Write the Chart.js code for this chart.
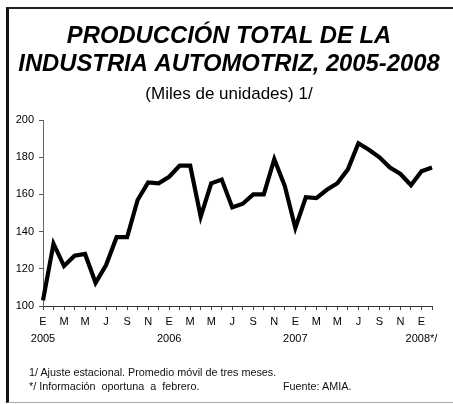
<!DOCTYPE html>
<html>
<head>
<meta charset="utf-8">
<script src="https://cdn.jsdelivr.net/npm/chart.js@4.4.1/dist/chart.umd.min.js"></script>
<style>
  html, body { margin: 0; padding: 0; background: #fff; }
  #wrap { position: relative; width: 453px; height: 404px; overflow: hidden; background: #fff; }
  #frame { position: absolute; left: 6px; top: 7px; width: 470px; height: 396px;
           border-left: 3px solid #111; border-top: 2px solid #222; border-bottom: 1px solid #aaa; box-sizing: border-box; }
  canvas { position: absolute; left: 0; top: 0; }
  .note { position: absolute; font-family: "Liberation Sans", Arial, sans-serif; font-size: 10.8px; color: #111; white-space: nowrap; }
</style>
</head>
<body>
<div id="wrap">
  <div id="frame"></div>
  <canvas id="c" width="458" height="404"></canvas>
  <div class="note" style="left:29px; top:366px;">1/ Ajuste estacional. Promedio móvil de tres meses.</div>
  <div class="note" style="left:29px; top:380px;">*/ Información&nbsp; oportuna&nbsp; a&nbsp; febrero.</div>
  <div class="note" style="left:283px; top:380px;">Fuente: AMIA.</div>
</div>
<script>
const titleLines = ['PRODUCCIÓN TOTAL DE LA', 'INDUSTRIA AUTOMOTRIZ, 2005-2008'];
const subtitleText = '(Miles de unidades) 1/';

const categories = [
  '2005-01','2005-02','2005-03','2005-04','2005-05','2005-06','2005-07','2005-08','2005-09','2005-10','2005-11','2005-12',
  '2006-01','2006-02','2006-03','2006-04','2006-05','2006-06','2006-07','2006-08','2006-09','2006-10','2006-11','2006-12',
  '2007-01','2007-02','2007-03','2007-04','2007-05','2007-06','2007-07','2007-08','2007-09','2007-10','2007-11','2007-12',
  '2008-01','2008-02'
];

const monthLabels = [
  'E','','M','','M','','J','','S','','N','',
  'E','','M','','M','','J','','S','','N','',
  'E','','M','','M','','J','','S','','N','',
  'E',''
];

const yearLabels = [
  '2005','','','','','','','','','','','',
  '2006','','','','','','','','','','','',
  '2007','','','','','','','','','','','',
  '2008*/',''
];

const produccion = [
  103, 133.5, 121.5, 127, 128, 112.5, 122, 137, 137, 157, 166.5, 166,
  169.5, 175.5, 175.5, 148, 166, 168, 153, 155, 160, 160, 179, 164.5,
  142, 158.5, 158, 162.5, 166, 173.5, 187.5, 184, 180, 174.5, 171, 165,
  172.5, 174.5
];

const yTicks = [100, 120, 140, 160, 180, 200];

const FONT = '"Liberation Sans", Arial, sans-serif';

new Chart(document.getElementById('c'), {
  type: 'line',
  data: {
    labels: categories,
    datasets: [{
      data: produccion,
      yAxisID: 'y',
      borderColor: '#000',
      borderWidth: 4.2,
      pointRadius: 0,
      tension: 0,
      fill: false
    }]
  },
  options: {
    responsive: false,
    animation: false,
    layout: { padding: { left: 0, right: 0, top: 0, bottom: 0 } },
    plugins: {
      legend: { display: false },
      tooltip: { enabled: false },
      title: {
        display: true,
        text: titleLines,
        color: '#000',
        font: { family: FONT, size: 23.8, weight: 'bold', style: 'italic', lineHeight: 1.18 },
        padding: { top: 22, bottom: 0 }
      },
      subtitle: {
        display: true,
        text: subtitleText,
        color: '#000',
        font: { family: FONT, size: 17, weight: 'normal', lineHeight: 1.2 },
        padding: { top: 6, bottom: 15.5 }
      }
    },
    scales: {
      x: {
        type: 'category',
        offset: false,
        afterFit: (s) => { s.height = 98; },
        grid: { display: true, drawOnChartArea: false, drawTicks: true, tickLength: 4, color: '#444', tickWidth: 1 },
        border: { display: true, color: '#333', width: 1 },
        ticks: {
          autoSkip: false,
          maxRotation: 0,
          minRotation: 0,
          padding: 4,
          color: '#000',
          font: { family: FONT, size: 11, lineHeight: 1.5 },
          callback: (v, i) => yearLabels[i] ? [monthLabels[i], yearLabels[i]] : monthLabels[i]
        }
      },
      y: {
        position: 'left',
        min: 100,
        max: 200,
        afterFit: (s) => { s.width = 43; },
        afterBuildTicks: (s) => { s.ticks = yTicks.map(v => ({ value: v })); },
        grid: { display: true, drawOnChartArea: false, drawTicks: true, tickLength: 4, color: '#555' },
        border: { display: true, color: '#666', width: 1 },
        ticks: {
          padding: 5,
          color: '#000',
          font: { family: FONT, size: 11 }
        }
      },
      spacer: {
        type: 'linear',
        position: 'right',
        display: true,
        afterFit: (s) => { s.width = 26; },
        grid: { display: false, drawTicks: false },
        border: { display: false },
        ticks: { display: false }
      }
    }
  }
});
</script>
</body>
</html>
